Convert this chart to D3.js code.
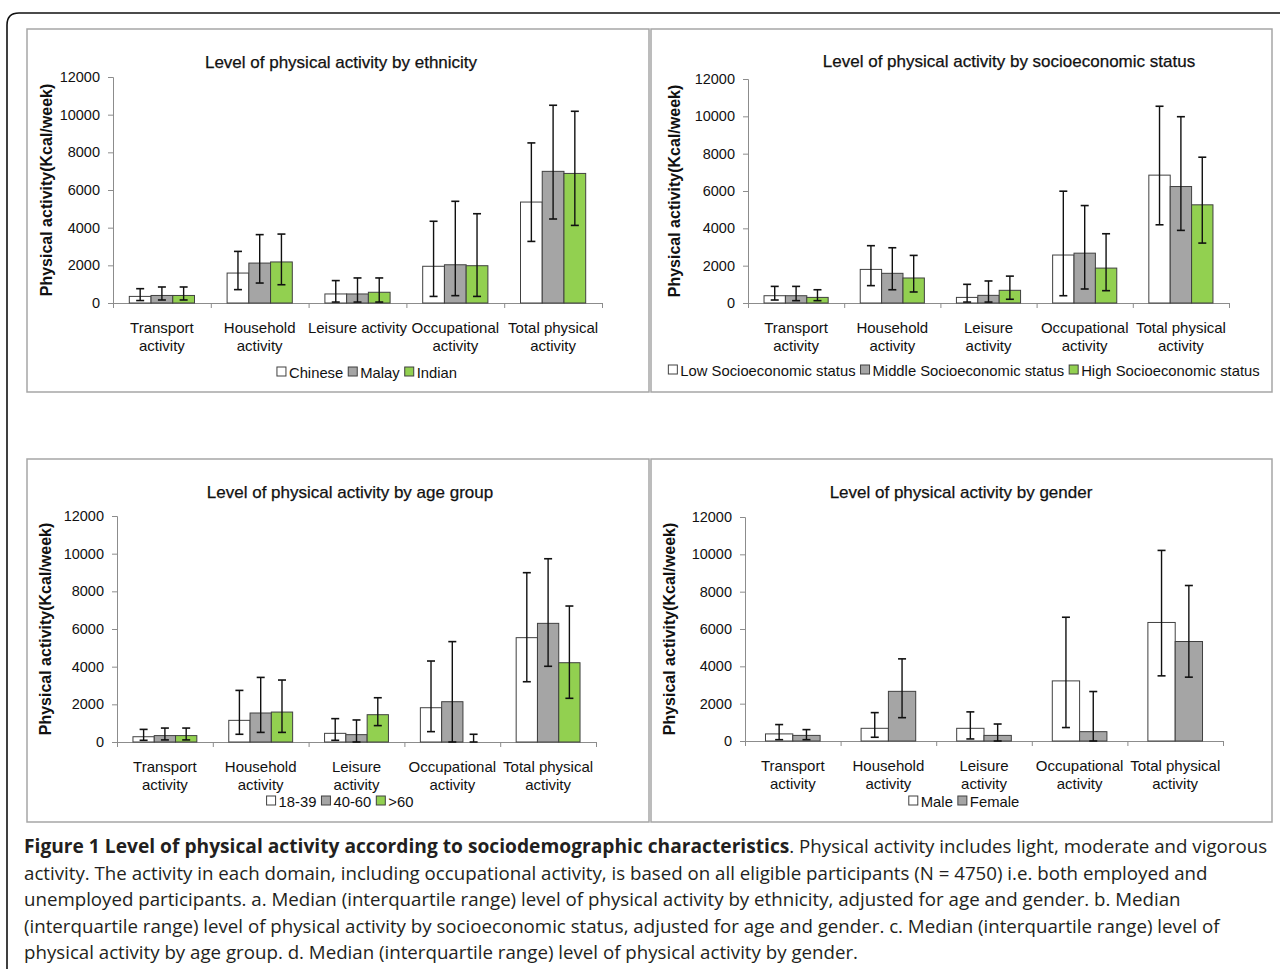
<!DOCTYPE html>
<html>
<head>
<meta charset="utf-8">
<script src="https://cdn.jsdelivr.net/npm/d3@7"></script>
<style>
  body { margin: 0; background: #fff; }
  svg { display: block; }
</style>
</head>
<body>
<svg id="fig" width="1280" height="969"></svg>
<script>
let d3 = window.d3

// shared axis values
let categories = ['Transport activity', 'Household activity', 'Leisure activity', 'Occupational activity', 'Total physical activity']
let yTicks = [0, 2000, 4000, 6000, 8000, 10000, 12000]
let seriesColors = ['#ffffff', '#a5a5a5', '#92d050']

// a. ethnicity (median, lower quartile, upper quartile)
let ethnicity = ['Chinese', 'Malay', 'Indian']
let ethnicityMedian = [[350, 1590, 480, 1950, 5360], [400, 2120, 480, 2030, 6990], [400, 2180, 570, 1980, 6880]]
let ethnicityQ1 = [[130, 710, 50, 350, 3270], [160, 1060, 50, 390, 4460], [160, 970, 50, 350, 4120]]
let ethnicityQ3 = [[760, 2740, 1190, 4340, 8500], [850, 3630, 1330, 5400, 10500], [850, 3660, 1330, 4740, 10180]]

// b. socioeconomic status
let ses = ['Low Socioeconomic status', 'Middle Socioeconomic status', 'High Socioeconomic status']
let sesMedian = [[390, 1800, 300, 2570, 6850], [390, 1590, 410, 2670, 6240], [300, 1340, 680, 1870, 5260]]
let sesQ1 = [[160, 930, 50, 390, 4190], [125, 710, 50, 750, 3890], [125, 590, 200, 660, 3210]]
let sesQ3 = [[890, 3070, 1000, 5990, 10540], [890, 2960, 1180, 5220, 9980], [710, 2550, 1440, 3710, 7810]]

// c. age group
let ageGroups = ['18-39', '40-60', '>60']
let ageMedian = [[280, 1150, 460, 1820, 5540], [340, 1540, 390, 2140, 6300], [340, 1590, 1450, 0, 4210]]
let ageQ1 = [[90, 410, 90, 550, 3200], [110, 510, 0, 0, 4020], [110, 510, 870, 0, 2320]]
let ageQ3 = [[670, 2740, 1240, 4300, 8990], [740, 3430, 1170, 5330, 9730], [740, 3290, 2350, 410, 7220]]

// d. gender
let genders = ['Male', 'Female']
let genderMedian = [[380, 680, 680, 3220, 6350], [300, 2660, 300, 500, 5330]]
let genderQ1 = [[70, 200, 110, 720, 3490], [70, 1250, 0, 0, 3420]]
let genderQ3 = [[880, 1520, 1560, 6630, 10210], [610, 4400, 910, 2650, 8330]]

let captionBold = 'Figure 1 Level of physical activity according to sociodemographic characteristics'
let captionLines = [
  '. Physical activity includes light, moderate and vigorous',
  'activity. The activity in each domain, including occupational activity, is based on all eligible participants (N = 4750) i.e. both employed and',
  'unemployed participants. a. Median (interquartile range) level of physical activity by ethnicity, adjusted for age and gender. b. Median',
  '(interquartile range) level of physical activity by socioeconomic status, adjusted for age and gender. c. Median (interquartile range) level of',
  'physical activity by age group. d. Median (interquartile range) level of physical activity by gender.'
]

let panels = [
  { title: 'Level of physical activity by ethnicity', series: ethnicity, median: ethnicityMedian, q1: ethnicityQ1, q3: ethnicityQ3,
    box: [27, 29, 649, 392], xr: [113, 602], yr: [303, 77], titleX: 341, titleY: 62, legendX: 367, legendY: 372, yLabelX: 46, leisureOneLine: true },
  { title: 'Level of physical activity by socioeconomic status', series: ses, median: sesMedian, q1: sesQ1, q3: sesQ3,
    box: [651, 29, 1272, 392], xr: [748, 1229], yr: [303, 79], titleX: 1009, titleY: 61, legendX: 964, legendY: 370, yLabelX: 674 },
  { title: 'Level of physical activity by age group', series: ageGroups, median: ageMedian, q1: ageQ1, q3: ageQ3,
    box: [27, 459, 649, 822], xr: [117, 596], yr: [742, 516], titleX: 350, titleY: 492, legendX: 340, legendY: 801, yLabelX: 45 },
  { title: 'Level of physical activity by gender', series: genders, median: genderMedian, q1: genderQ1, q3: genderQ3,
    box: [651, 459, 1272, 822], xr: [745, 1223], yr: [741, 517], titleX: 961, titleY: 492, legendX: 964, legendY: 801, yLabelX: 669 }
]

let svg = d3.select('#fig')
let chartFont = '"Liberation Sans", Arial, sans-serif'

// outer figure frame (open to the right and bottom)
svg.append('path')
  .attr('d', 'M1290,13 H19 Q7,13 7,25 V990')
  .attr('fill', 'none')
  .attr('stroke', '#111')
  .attr('stroke-width', 1.6)

function drawPanel (p) {
  let g = svg.append('g').style('font-family', chartFont)
  g.append('rect')
    .attr('x', p.box[0]).attr('y', p.box[1])
    .attr('width', p.box[2] - p.box[0]).attr('height', p.box[3] - p.box[1])
    .attr('fill', '#fff').attr('stroke', '#a6a6a6').attr('stroke-width', 1.5)

  let x = d3.scaleBand().domain(categories).range(p.xr)
  let y = d3.scaleLinear().domain([0, 12000]).range(p.yr)
  let n = p.series.length
  let bw = x.bandwidth()
  let w = bw / (n + 1.5)
  let xs = d3.scaleBand().domain(d3.range(n)).range([0.75 * w, bw - 0.75 * w])

  g.append('text')
    .attr('x', p.titleX)
    .attr('y', p.titleY + 6)
    .attr('text-anchor', 'middle')
    .attr('font-size', 17)
    .attr('fill', '#111')
    .attr('stroke', '#111')
    .attr('stroke-width', 0.25)
    .text(p.title)

  let yAxis = d3.axisLeft(y).tickValues(yTicks).tickSize(5).tickPadding(8).tickFormat(d3.format('d'))
  let ya = g.append('g').attr('transform', 'translate(' + p.xr[0] + ',0)').call(yAxis)
  ya.selectAll('path, line').attr('stroke', '#8c8c8c')
  ya.selectAll('text').attr('font-size', 14.5).attr('fill', '#111').style('font-family', chartFont)

  let xb = d3.scaleLinear().domain([0, categories.length]).range(p.xr)
  let xAxis = d3.axisBottom(xb).ticks(categories.length).tickFormat('').tickSize(5).tickSizeOuter(5)
  let xa = g.append('g').attr('transform', 'translate(0,' + p.yr[0] + ')').call(xAxis)
  xa.selectAll('path, line').attr('stroke', '#8c8c8c')

  g.append('text')
    .attr('transform', 'translate(' + p.yLabelX + ',' + (p.yr[0] + p.yr[1]) / 2 + ') rotate(-90)')
    .attr('text-anchor', 'middle')
    .attr('dy', '0.35em')
    .attr('font-size', 16)
    .attr('font-weight', 'bold')
    .attr('fill', '#111')
    .text('Physical activity(Kcal/week)')

  // category labels
  categories.forEach(function (c) {
    let lines
    if (c === 'Leisure activity' && p.leisureOneLine) lines = [c]
    else if (c === 'Total physical activity') lines = ['Total physical', 'activity']
    else lines = [c.replace(' activity', ''), 'activity']
    let t = g.append('text')
      .attr('text-anchor', 'middle')
      .attr('font-size', 15)
      .attr('fill', '#111')
    lines.forEach(function (l, i) {
      t.append('tspan')
        .attr('x', x(c) + bw / 2)
        .attr('y', p.yr[0] + 30 + i * 18)
        .text(l)
    })
  })

  // bars and interquartile error bars
  p.series.forEach(function (s, si) {
    let sg = g.append('g')
    categories.forEach(function (c, ci) {
      let cx = x(c) + xs(si)
      let v = p.median[si][ci]
      if (v > 0) {
        sg.append('rect')
          .attr('x', cx).attr('y', y(v))
          .attr('width', xs.bandwidth()).attr('height', y(0) - y(v))
          .attr('fill', seriesColors[si])
          .attr('stroke', '#404040').attr('stroke-width', 1)
      }
      let mx = cx + xs.bandwidth() / 2
      let lo = p.q1[si][ci]
      let hi = p.q3[si][ci]
      sg.append('line')
        .attr('x1', mx).attr('x2', mx).attr('y1', y(lo)).attr('y2', y(hi))
        .attr('stroke', '#111').attr('stroke-width', 1.4)
      ;[lo, hi].forEach(function (e) {
        sg.append('line')
          .attr('x1', mx - 4).attr('x2', mx + 4).attr('y1', y(e)).attr('y2', y(e))
          .attr('stroke', '#111').attr('stroke-width', 1.6)
      })
    })
  })

  // legend, centred under the plot
  let lg = g.append('g')
  let cursor = 0
  p.series.forEach(function (s, si) {
    let item = lg.append('g').attr('transform', 'translate(' + cursor + ',0)')
    item.append('rect')
      .attr('x', 0).attr('y', -5).attr('width', 9).attr('height', 9)
      .attr('fill', seriesColors[si]).attr('stroke', '#404040').attr('stroke-width', 1)
    let t = item.append('text')
      .attr('x', 12).attr('y', 5.5)
      .attr('font-size', 14.8)
      .attr('fill', '#111')
      .text(s)
    cursor += 12 + t.node().getComputedTextLength() + 5
  })
  let total = cursor - 5
  lg.attr('transform', 'translate(' + (p.legendX - total / 2) + ',' + p.legendY + ')')
}

panels.forEach(drawPanel)

// caption
let cap = svg.append('g')
  .style('font-family', '"Open Sans", "Noto Sans", sans-serif')
  .attr('font-size', 18.7)
  .attr('fill', '#231f20')
let first = cap.append('text').attr('x', 24).attr('y', 853)
first.append('tspan').attr('font-weight', 'bold').attr('font-size', 19.2).text(captionBold)
first.append('tspan').text(captionLines[0])
captionLines.slice(1).forEach(function (l, i) {
  cap.append('text')
    .attr('x', 24)
    .attr('y', 853 + (i + 1) * 26.5)
    .text(l)
})
</script>
</body>
</html>
